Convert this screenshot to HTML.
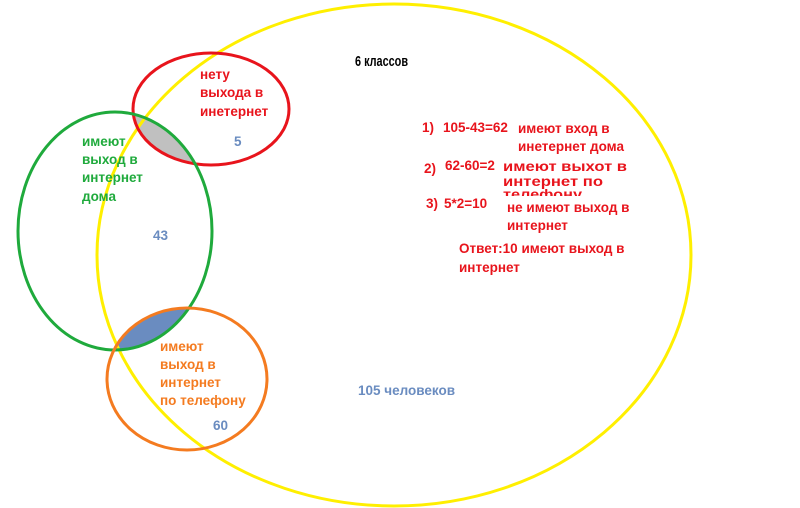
<!DOCTYPE html>
<html><head><meta charset="utf-8"><style>
html,body{margin:0;padding:0;background:#fff;}
svg{display:block;}
text{font-family:"Liberation Sans","DejaVu Sans",sans-serif;font-weight:bold;font-size:13.5px;}
.r{fill:#e8141c}.g{fill:#1faa3c}.o{fill:#f47b20}.b{fill:#6a8cc0}
</style></head><body>
<svg width="800" height="508" viewBox="0 0 800 508" xmlns="http://www.w3.org/2000/svg">
<defs>
<clipPath id="cg"><ellipse cx="115" cy="231" rx="97" ry="119"/></clipPath>
</defs>
<ellipse cx="211" cy="109" rx="78" ry="56" fill="#c0c0c0" clip-path="url(#cg)"/>
<ellipse cx="187" cy="379" rx="80" ry="71" fill="#6a8cc0" clip-path="url(#cg)"/>
<ellipse cx="394" cy="255" rx="297" ry="251" fill="none" stroke="#ffef00" stroke-width="3"/>
<ellipse cx="211" cy="109" rx="78" ry="56" fill="none" stroke="#e8141c" stroke-width="3"/>
<ellipse cx="115" cy="231" rx="97" ry="119" fill="none" stroke="#1faa3c" stroke-width="3"/>
<ellipse cx="187" cy="379" rx="80" ry="71" fill="none" stroke="#f47b20" stroke-width="3"/>

<text x="355" y="66" style="font-size:15px;fill:#000;font-weight:bold;" textLength="53" lengthAdjust="spacingAndGlyphs">6 классов</text>

<text class="r" x="200" y="79">нету</text>
<text class="r" x="200" y="97">выхода в</text>
<text class="r" x="200" y="116">инетернет</text>
<text class="b" x="234" y="146">5</text>

<text class="g" x="82" y="146">имеют</text>
<text class="g" x="82" y="164">выход в</text>
<text class="g" x="82" y="182">интернет</text>
<text class="g" x="82" y="201">дома</text>
<text class="b" x="153" y="240">43</text>

<text class="o" x="160" y="351">имеют</text>
<text class="o" x="160" y="369">выход в</text>
<text class="o" x="160" y="387">интернет</text>
<text class="o" x="160" y="405">по телефону</text>
<text class="b" x="213" y="430">60</text>

<text class="b" x="358" y="395">105 человеков</text>

<text class="r" x="422" y="132">1)</text>
<text class="r" x="443" y="132">105-43=62</text>
<text class="r" x="518" y="133">имеют вход в</text>
<text class="r" x="518" y="151">инетернет дома</text>

<text class="r" x="424" y="173">2)</text>
<text class="r" x="445" y="170">62-60=2</text>
<text class="r" x="503" y="171" textLength="124" lengthAdjust="spacingAndGlyphs">имеют выхот в</text>
<text class="r" x="503" y="186" textLength="100" lengthAdjust="spacingAndGlyphs">интернет по</text>
<svg x="500" y="187" width="100" height="9" overflow="hidden"><text class="r" x="3" y="12" textLength="79" lengthAdjust="spacingAndGlyphs">телефону</text></svg>

<text class="r" x="426" y="208">3)</text>
<text class="r" x="444" y="208">5*2=10</text>
<text class="r" x="507" y="212">не имеют выход в</text>
<text class="r" x="507" y="230">интернет</text>

<text class="r" x="459" y="253">Ответ:10 имеют выход в</text>
<text class="r" x="459" y="272">интернет</text>
</svg>
</body></html>
